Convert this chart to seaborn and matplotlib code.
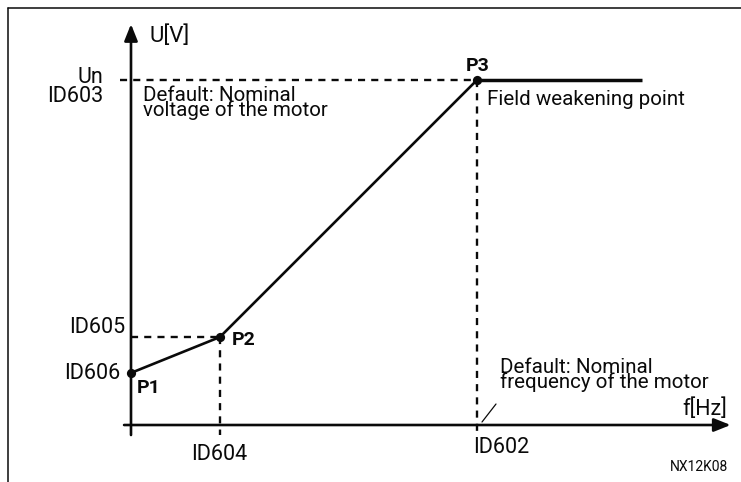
import matplotlib
matplotlib.use("Agg")
import matplotlib.pyplot as plt
import seaborn as sns
from matplotlib.lines import Line2D
from matplotlib.transforms import offset_copy

# U/f curve operating points: frequency and voltage in % of nominal values
point_names = ["P1", "P2", "P3"]
freq = [0.0, 25.7, 100.0]
volt = [15.1, 25.5, 100.0]
# above the field weakening point the voltage stays at Un
flat_freq = [100.0, 147.7]
flat_volt = [100.0, 100.0]

# axis extents (same units)
f_axis = [-2.0, 173.3]
u_axis = [-2.9, 116.2]

volt_tick_labels = ["ID606", "ID605", "ID603"]
freq_tick_labels = ["ID604", "ID602"]

sns.set_theme(style="white")
plt.rcParams["font.family"] = ["Roboto", "DejaVu Sans"]

INK = "#0a0a0a"
PX = 0.72  # points per pixel at 100 dpi

fig = plt.figure(figsize=(7.41, 4.82), dpi=100)
ax = fig.add_axes([0, 0, 1, 1])
ax.set_xlim(-37.86, 176.3)
ax.set_ylim(-16.52, 123.19)
ax.axis("off")

# frame lines along the top and left edge
fig.add_artist(Line2D([8 / 741, 1.0], [1 - 8 / 482] * 2, transform=fig.transFigure,
                      lw=1.1, color=INK))
fig.add_artist(Line2D([8 / 741] * 2, [0.0, 1 - 8 / 482], transform=fig.transFigure,
                      lw=1.1, color=INK))

# axes with arrow heads
arrow = dict(arrowstyle="-|>,head_length=1.0,head_width=0.4", lw=1.9, color=INK,
             shrinkA=0, shrinkB=0, mutation_scale=10)
ax.annotate("", xy=(f_axis[1], 0), xytext=(f_axis[0], 0), arrowprops=arrow)
ax.annotate("", xy=(0, u_axis[1]), xytext=(0, u_axis[0]), arrowprops=arrow)

# dashed guides from the points to the axes
dash = dict(color=INK, lw=1.7, dashes=(3.0, 2.6))
ax.plot([-3.2, freq[2]], [volt[2], volt[2]], **dash)
ax.plot([0, freq[1]], [volt[1], volt[1]], **dash)
ax.plot([freq[1], freq[1]], [volt[1], u_axis[0]], **dash)
ax.plot([freq[2], freq[2]], [volt[2], -3.5], **dash)

# the U/f curve
sns.lineplot(x=freq, y=volt, ax=ax, color=INK, lw=1.9, sort=False)
ax.plot(flat_freq, flat_volt, color=INK, lw=2.5, solid_capstyle="butt")
sns.scatterplot(x=freq, y=volt, ax=ax, color=INK, s=44, edgecolor=INK, linewidth=0,
                zorder=5)


def label(text, xy, dx, dy, ha="left", va="center", size=14, **kw):
    ax.annotate(text, xy=xy, xytext=(dx * PX, -dy * PX), textcoords="offset points",
                ha=ha, va=va, fontsize=size, color=INK, **kw)


label("U[V]", (0, u_axis[1]), 19, 12, size=16)
label("Un", (0, volt[2]), -28, -3, ha="right", size=15.5)
label(volt_tick_labels[2], (0, volt[2]), -28, 16, ha="right", size=15.5)
label("Default: Nominal\nvoltage of the motor", (0, volt[2]), 12, 6, va="top",
      size=14.8, linespacing=0.72)

label(point_names[2], (freq[2], volt[2]), 1, -14, ha="center", size=14, weight="bold")
label("Field weakening point", (freq[2], volt[2]), 10, 19, size=14.8)

label(volt_tick_labels[1], (0, volt[1]), -6, -10, ha="right", size=15.5)
label(volt_tick_labels[0], (freq[0], volt[0]), -11, 1, ha="right", size=15.5)
label(point_names[0], (freq[0], volt[0]), 6, 15, size=14, weight="bold")
label(point_names[1], (freq[1], volt[1]), 12, 3, size=14, weight="bold")

label(freq_tick_labels[0], (freq[1], 0), -1, 29, ha="center", size=15.5)
label(freq_tick_labels[1], (freq[2], 0), -4, 22, size=15.5)
label("Default: Nominal\nfrequency of the motor", (freq[2], 0), 23, -67, va="top",
      size=14.8, linespacing=0.72)
label("f[Hz]", (f_axis[1], 0), -3, -16, ha="right", size=15.5)
label("NX12K08", (f_axis[1], 0), -2, 42, ha="right", size=10)

# short leader from the frequency note to the ID602 guide line
ax.annotate("", xy=(freq[2], 0),
            xycoords=offset_copy(ax.transData, fig=fig, x=5, y=3, units="dots"),
            xytext=(14 * PX, 18 * PX), textcoords="offset points",
            arrowprops=dict(arrowstyle="-", lw=0.9, color=INK, shrinkA=0, shrinkB=0))

fig.savefig("out.png", dpi=100)
